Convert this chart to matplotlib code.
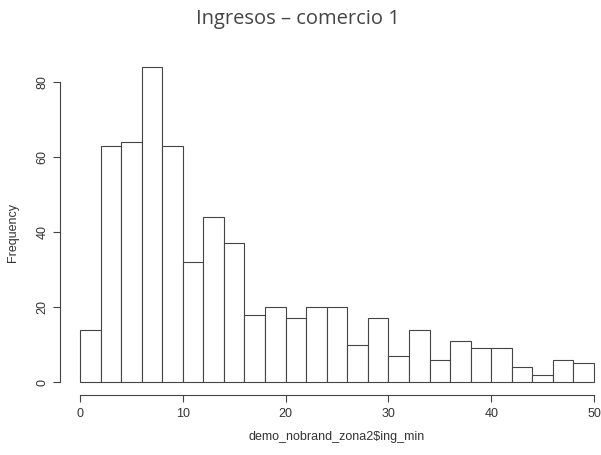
import matplotlib
matplotlib.use("Agg")
import matplotlib.pyplot as plt
import numpy as np

# histogram counts (bins of width 2 from 0 to 50)
bin_edges = list(range(0, 52, 2))
counts = [14, 63, 64, 84, 63, 32, 44, 37, 18, 20, 17, 20, 20,
          10, 17, 7, 14, 6, 11, 9, 9, 4, 2, 6, 5]
x_ticks = [0, 10, 20, 30, 40, 50]
y_ticks = [0, 20, 40, 60, 80]

title = "Ingresos \u2013 comercio 1"
x_label = "demo_nobrand_zona2$ing_min"
y_label = "Frequency"

W, H = 601, 455
y_top = 86
px_per_unit = 300 / 80  # 0 at pixel 382, 80 at pixel 82
fig = plt.figure(figsize=(W / 100, H / 100), dpi=100)
ax = fig.add_axes([80 / W, (H - 382) / H, 514 / W, y_top * px_per_unit / H])

edges = np.array(bin_edges)
bars = ax.bar(edges[:-1], counts, width=np.diff(edges), align="edge",
              facecolor="white", edgecolor="#444444", linewidth=0.8)
for b in bars:
    b.set_clip_on(False)

ax.set_xlim(0, 50)
ax.set_ylim(0, y_top)

# R style detached axes
for side in ("top", "right"):
    ax.spines[side].set_visible(False)
ax.spines["left"].set_position(("outward", 14.4))
ax.spines["bottom"].set_position(("outward", 9.4))
ax.spines["left"].set_bounds(0, 80)
ax.spines["bottom"].set_bounds(0, 50)
for side in ("left", "bottom"):
    ax.spines[side].set_color("#444444")
    ax.spines[side].set_linewidth(0.8)

ax.set_xticks(x_ticks)
ax.set_yticks(y_ticks)
ax.tick_params(length=5, width=0.8, color="#444444", labelcolor="#333333",
               labelsize=9)
ax.tick_params(axis="x", pad=4)
for lbl in ax.get_yticklabels():
    lbl.set_rotation(90)
    lbl.set_va("center")
for lbl in ax.get_xticklabels() + ax.get_yticklabels():
    lbl.set_fontfamily("Liberation Sans")

fig.text(337 / W, 1 - 437 / H, x_label, ha="center", va="center",
         fontsize=9, color="#333333", family="Liberation Sans")
fig.text(13 / W, 1 - 232 / H, y_label, ha="center", va="center",
         rotation=90, fontsize=9, color="#333333", family="Liberation Sans")
fig.text(298 / W, 1 - 19 / H, title, ha="center", va="center",
         fontsize=14.5, color="#444444", family="Open Sans")

fig.savefig("out.png", dpi=100)
